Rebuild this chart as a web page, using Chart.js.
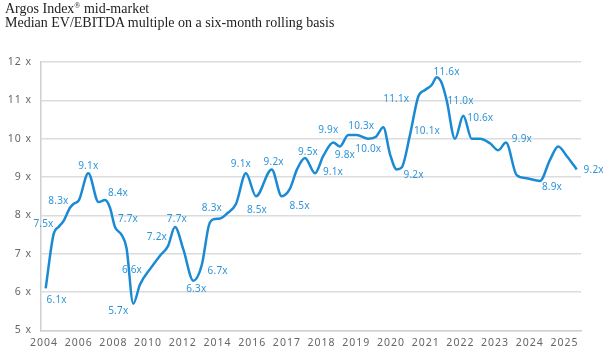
<!DOCTYPE html>
<html><head><meta charset="utf-8">
<script src="https://cdn.jsdelivr.net/npm/chart.js@4.4.1/dist/chart.umd.min.js"></script>
<style>
html,body{margin:0;padding:0;background:#fff;}
#wrap{position:relative;width:606px;height:356px;overflow:hidden;}
#title{position:absolute;left:5px;top:2px;font-family:"Liberation Serif",serif;font-size:14px;line-height:13.5px;color:#222;}
#title sup{font-size:8px;line-height:0;vertical-align:5px;}
canvas{position:absolute;left:0;top:0;}
</style></head><body>
<div id="wrap"><canvas id="c" width="606" height="356"></canvas>
<div id="title">Argos Index<sup>®</sup> mid-market<br>Median EV/EBITDA multiple on a six-month rolling basis</div></div>
<script>
// x-axis tick labels (evenly spaced in the original)
const tickLabels = ['2004','2006','2008','2010','2012','2014','2016','2017','2018','2019','2020','2021','2022','2023','2024','2025'];
// y-axis ticks
const yMin = 5, yMax = 12;
// position of each observation along the axis, in tick-label units
const positions = [0.049,0.274,0.418,0.562,0.749,0.850,1.009,1.277,1.571,1.758,1.902,2.046,2.233,2.378,2.573,2.767,3.055,3.343,3.573,3.775,4.020,4.303,4.545,4.755,4.885,5.072,5.274,5.533,5.821,6.110,6.562,6.850,7.089,7.291,7.522,7.810,8.049,8.337,8.530,8.769,9.012,9.346,9.568,9.778,9.971,10.164,10.308,10.548,10.787,10.980,11.173,11.317,11.461,11.605,11.844,12.084,12.326,12.565,12.853,13.092,13.314,13.622,13.911,14.294,14.582,14.821,15.063,15.352];
// median EV/EBITDA multiple
const multiples = [6.1,7.5,7.7,7.85,8.2,8.3,8.4,9.1,8.35,8.4,8.2,7.7,7.5,7.15,5.7,6.2,6.6,6.95,7.2,7.7,7.1,6.3,6.7,7.75,7.9,7.92,8.05,8.3,9.1,8.5,9.2,8.5,8.7,9.2,9.5,9.1,9.55,9.9,9.8,10.1,10.1,10.0,10.05,10.3,9.6,9.2,9.25,10.1,11.1,11.27,11.4,11.6,11.45,11.0,10.0,10.6,10.0,10.0,9.88,9.7,9.9,9.05,8.97,8.9,9.45,9.8,9.55,9.2];
// observations that carry a value label
const labelledPoints = [0,1,5,7,9,11,14,16,18,19,21,22,27,28,29,30,31,34,35,37,38,41,43,45,47,48,51,53,55,60,63,67];

// label placement (style): offset of label centre from its point, px
const labelOffsets = [[11,12],[-10,-10],[-15,-3],[0,-7],[13,-7],[13,-8],[-15,8],[-18,1],[-11,-9],[2,-8],[3,9],[16,6],[-24,4],[-5,-9],[1,14],[2,-7],[18,10],[3,-6],[18,-1],[-5,-12],[5,9],[0,10],[-22,-1],[17,6],[17,-4],[-22,3],[10,-5],[14,1],[17,2],[16,-3],[12,6],[17,1]];

const LINE = '#1a8ad4', LABEL = '#2f95d8', GRID = '#dcdcdc', TICK = '#666';

const spacingPlugin = {
  id: 'spacing',
  beforeDraw(chart){ chart.ctx.letterSpacing = '1px'; },
  afterDraw(chart){ chart.ctx.letterSpacing = '0px'; }
};
const dataLabelPlugin = {
  id: 'dataLabels',
  afterDatasetsDraw(chart){
    const ctx = chart.ctx;
    const meta = chart.getDatasetMeta(0);
    ctx.save();
    ctx.letterSpacing = '0.2px';
    ctx.font = '10px "Noto Sans"';
    ctx.fillStyle = LABEL;
    ctx.textAlign = 'center';
    ctx.textBaseline = 'middle';
    labelledPoints.forEach((idx, k) => {
      const p = meta.data[idx];
      const o = labelOffsets[k];
      ctx.fillText(multiples[idx].toFixed(1) + 'x', p.x + o[0], p.y + o[1]);
    });
    ctx.restore();
  }
};

new Chart(document.getElementById('c'), {
  type: 'line',
  data: {
    datasets: [{
      data: positions.map((x, i) => ({x, y: multiples[i]})),
      borderColor: LINE,
      borderWidth: 2.5,
      pointRadius: 0,
      cubicInterpolationMode: 'monotone',
      fill: false
    }]
  },
  options: {
    responsive: false,
    animation: false,
    layout: { padding: { top: 62, right: 25, left: 0, bottom: 0 } },
    plugins: { legend: { display: false }, tooltip: { enabled: false } },
    scales: {
      x: {
        type: 'linear',
        min: -0.086, max: 15.476,
        afterBuildTicks: axis => { axis.ticks = tickLabels.map((_, i) => ({ value: i })); },
        afterFit: axis => { axis.height = 25.5; },
        grid: { display: false, drawTicks: false },
        border: { display: true, color: '#cfcfcf', width: 1.5 },
        ticks: {
          autoSkip: false, maxRotation: 0, padding: 6,
          color: TICK, font: { family: 'Noto Sans', size: 10.5 },
          callback: v => tickLabels[Math.round(v)]
        }
      },
      y: {
        min: yMin, max: yMax,
        afterFit: axis => { axis.width = 41; },
        grid: { color: GRID, lineWidth: 1.5, drawTicks: false },
        border: { display: true, color: '#cfcfcf', width: 1.5 },
        ticks: {
          stepSize: 1, padding: 9,
          color: TICK, font: { family: 'Noto Sans', size: 10.5 },
          callback: v => v + ' x'
        }
      }
    }
  },
  plugins: [spacingPlugin, dataLabelPlugin]
});
</script>
</body></html>
